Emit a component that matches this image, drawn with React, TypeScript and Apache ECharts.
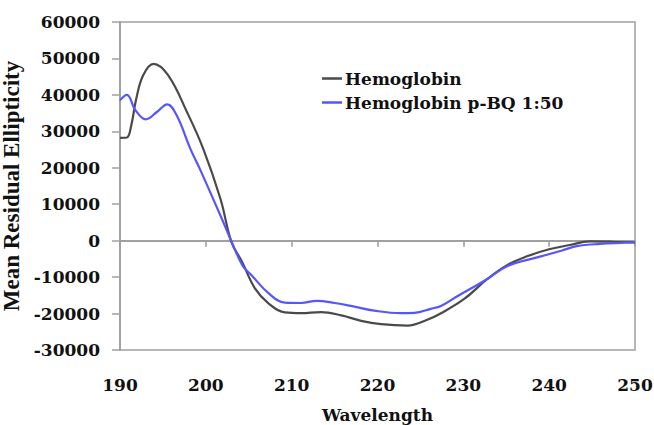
import React, { useEffect, useRef } from "react";
import * as echarts from "echarts";

const seriesNames = ["Hemoglobin", "Hemoglobin p-BQ 1:50"];

const hbWavelength = [
  190, 190.8, 191.3, 191.9, 192.7, 193.9, 195.6, 197.8, 199.7, 201.7, 203.0, 204.2, 205.7, 207.3,
  209.2, 211.1, 213.4, 215.8, 218.1, 220.4, 223.5, 225.8, 227.4, 230.1, 232.8, 235.1, 237.4, 240.1,
  242.4, 244.7, 247.4, 250,
];
const hbValues = [
  28200, 28300, 31500, 39000, 45400, 48500, 45400, 35300, 25200, 11500, -500, -5700, -13000, -17200,
  -19700, -19900, -19600, -20500, -22000, -22900, -23300, -21700, -19900, -16000, -10500, -6700, -4300,
  -2300, -1200, -200, -300, -500,
];

const bqWavelength = [
  190, 190.8, 191.8, 193.0, 194.3, 195.5, 196.6, 198.2, 199.3, 201.7, 203.0, 204.3, 205.3, 207.3,
  209.2, 211.1, 212.9, 215.0, 217.3, 219.6, 222.7, 224.3, 226.2, 227.4, 229.4, 232.8, 235.1, 238.6,
  241.5, 243.2, 245.9, 250,
];
const bqValues = [
  38500, 40000, 35800, 33300, 35300, 37400, 34400, 25200, 19700, 6900, -300, -6900, -9400, -14400,
  -17000, -17100, -16500, -17100, -18100, -19200, -19900, -19800, -18700, -17900, -15100, -10500,
  -7000, -4600, -2700, -1500, -900, -500,
];

const xTitle = "Wavelength";
const yTitle = "Mean Residual Ellipticity";

export default function App() {
  const ref = useRef<HTMLDivElement>(null);
  useEffect(() => {
    if (!ref.current) return;
    const chart = echarts.init(ref.current, undefined, { renderer: "svg" });
    const labelFont = {
      fontFamily: "DejaVu Serif",
      fontWeight: "bold" as const,
      fontSize: 17,
      color: "#111",
    };
    const axisGray = "#a0a0a0";
    chart.setOption({
      animation: false,
      backgroundColor: "#fff",
      grid: {
        left: 120,
        right: 19,
        top: 22,
        bottom: 75,
        outerBoundsMode: "none",
        containLabel: false,
        show: true,
        borderColor: axisGray,
        borderWidth: 1.5,
      },
      legend: {
        orient: "vertical",
        left: 317,
        top: 65,
        icon: "rect",
        itemWidth: 20,
        itemHeight: 2.5,
        itemGap: 7,
        textStyle: { ...labelFont, padding: [0, 0, 0, -2] },
        data: seriesNames,
      },
      xAxis: [
        {
          type: "value",
          min: 190,
          max: 250,
          interval: 10,
          name: xTitle,
          nameLocation: "middle",
          nameGap: 56,
          nameTextStyle: { ...labelFont },
          axisLine: { show: false, onZero: false },
          axisTick: { show: false },
          axisLabel: { ...labelFont, margin: 26, formatter: (v: number) => String(v) },
          splitLine: { show: false },
        },
        {
          type: "value",
          min: 190,
          max: 250,
          interval: 10,
          position: "bottom",
          axisLine: { show: true, onZero: true, lineStyle: { color: axisGray, width: 1.8 } },
          axisTick: { show: true, length: 6, lineStyle: { color: axisGray, width: 1.6 } },
          axisLabel: { show: false },
          splitLine: { show: false },
        },
      ],
      yAxis: {
        type: "value",
        min: -30000,
        max: 60000,
        interval: 10000,
        name: yTitle,
        nameLocation: "middle",
        nameGap: 94,
        nameTextStyle: {
          fontFamily: "Liberation Serif",
          fontWeight: "bold",
          fontSize: 23,
          color: "#111",
        },
        axisLine: { show: true, lineStyle: { color: axisGray, width: 1.8 } },
        axisTick: { show: true, length: 8, lineStyle: { color: axisGray, width: 1.5 } },
        axisLabel: { ...labelFont, margin: 20, formatter: (v: number) => String(v) },
        splitLine: { show: false },
      },
      series: [
        {
          name: seriesNames[0],
          type: "line",
          smooth: 0.4,
          symbol: "none",
          data: hbWavelength.map((w, i) => [w, hbValues[i]]),
          lineStyle: { color: "#4a4a4a", width: 2.2 },
          itemStyle: { color: "#4a4a4a" },
        },
        {
          name: seriesNames[1],
          type: "line",
          smooth: 0.4,
          symbol: "none",
          data: bqWavelength.map((w, i) => [w, bqValues[i]]),
          lineStyle: { color: "#5656ff", width: 2.2 },
          itemStyle: { color: "#5656ff" },
        },
      ],
    });
    return () => chart.dispose();
  }, []);
  return <div ref={ref} style={{ width: 654, height: 425, position: "absolute", left: 0, top: 0 }} />;
}
